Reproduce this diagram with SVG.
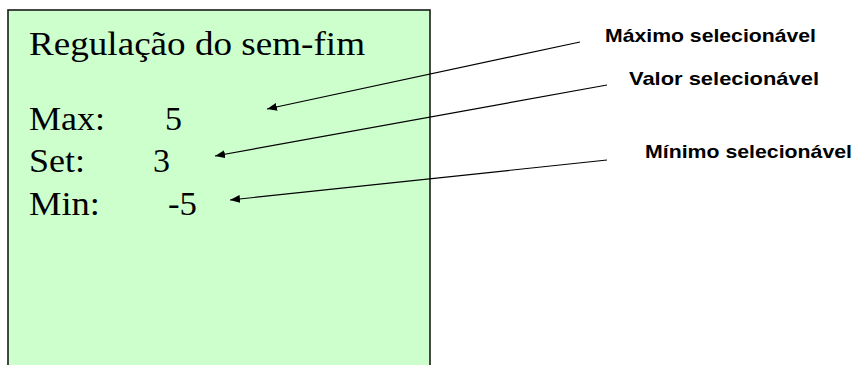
<svg xmlns="http://www.w3.org/2000/svg" width="854" height="365" viewBox="0 0 854 365">
  <style>
    .panel { fill: #ccffcc; stroke: #1a1a1a; stroke-width: 1.6; }
    .lcd { font-family: "Liberation Serif", "Times New Roman", serif; font-size: 34px; fill: #000; }
    .note { font-family: "Liberation Sans", Arial, sans-serif; font-size: 19px; font-weight: bold; fill: #000; }
    .lead { fill: none; stroke: #000; stroke-width: 1.2; marker-end: url(#tip); }
  </style>
  <defs>
    <marker id="tip" viewBox="0 0 10 8" refX="10" refY="4" markerWidth="10" markerHeight="8" markerUnits="userSpaceOnUse" orient="auto">
      <path d="M0,0 L10,4 L0,8 Z" fill="#000"/>
    </marker>
  </defs>
  <rect width="854" height="365" fill="#fff"/>

  <!-- display panel -->
  <g id="display">
    <rect class="panel" x="8" y="10" width="422" height="380"/>
    <text class="lcd" x="29" y="55" textLength="336" lengthAdjust="spacingAndGlyphs">Regulação do sem-fim</text>
    <text class="lcd" x="29" y="130" textLength="76" lengthAdjust="spacingAndGlyphs">Max:</text>
    <text class="lcd" x="165" y="130" textLength="17" lengthAdjust="spacingAndGlyphs">5</text>
    <text class="lcd" x="29" y="172" textLength="56" lengthAdjust="spacingAndGlyphs">Set:</text>
    <text class="lcd" x="153" y="172" textLength="17" lengthAdjust="spacingAndGlyphs">3</text>
    <text class="lcd" x="29" y="215" textLength="71" lengthAdjust="spacingAndGlyphs">Min:</text>
    <text class="lcd" x="168" y="215" textLength="29" lengthAdjust="spacingAndGlyphs">-5</text>
  </g>

  <!-- annotation labels -->
  <g id="label-max">
    <text class="note" x="605" y="42" textLength="211" lengthAdjust="spacingAndGlyphs">Máximo selecionável</text>
  </g>
  <g id="label-set">
    <text class="note" x="629" y="85" textLength="190" lengthAdjust="spacingAndGlyphs">Valor selecionável</text>
  </g>
  <g id="label-min">
    <text class="note" x="645" y="158" textLength="207" lengthAdjust="spacingAndGlyphs">Mínimo selecionável</text>
  </g>

  <!-- leader arrows -->
  <g id="connectors">
    <line class="lead" x1="580" y1="42" x2="267" y2="109"/>
    <line class="lead" x1="607" y1="85" x2="215" y2="156"/>
    <line class="lead" x1="607" y1="160" x2="230" y2="200"/>
  </g>
</svg>
